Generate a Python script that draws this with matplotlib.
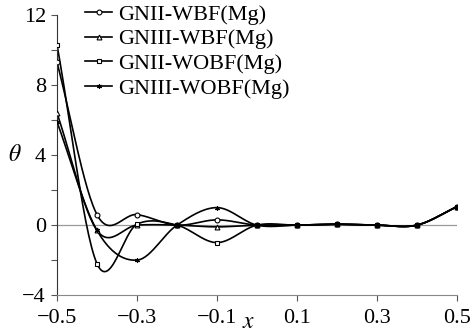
import numpy as np
import matplotlib.pyplot as plt

plt.rcParams['font.family'] = ['Liberation Serif', 'DejaVu Serif']
plt.rcParams['mathtext.fontset'] = 'stix'

# data
x = [-0.5, -0.4, -0.3, -0.2, -0.1, 0.0, 0.1, 0.2, 0.3, 0.4, 0.5]
gnii_wbf = [9.3, 0.6, 0.6, 0.0, 0.3, 0.0, 0.0, 0.05, 0.0, 0.0, 1.05]
gniii_wbf = [6.4, -0.3, 0.0, 0.0, -0.1, 0.0, 0.0, 0.05, 0.0, 0.0, 1.05]
gnii_wobf = [10.3, -2.2, 0.05, 0.0, -1.0, 0.0, 0.0, 0.05, 0.0, 0.0, 1.05]
gniii_wobf = [5.9, -0.3, -2.0, 0.0, 1.0, 0.0, 0.0, 0.05, 0.0, 0.0, 1.05]

labels = ['GNII-WBF(Mg)', 'GNIII-WBF(Mg)', 'GNII-WOBF(Mg)', 'GNIII-WOBF(Mg)']
series = [gnii_wbf, gniii_wbf, gnii_wobf, gniii_wobf]
markers = ['o', '^', 's', (6, 2, 0)]


def smooth(xs, ys, n=30):
    # Catmull-Rom spline through the points (like a "smoothed line" chart)
    xs = np.asarray(xs, float)
    ys = np.asarray(ys, float)
    px = np.concatenate([[2 * xs[0] - xs[1]], xs, [2 * xs[-1] - xs[-2]]])
    py = np.concatenate([[2 * ys[0] - ys[1]], ys, [2 * ys[-1] - ys[-2]]])
    t = np.linspace(0, 1, n)
    outx, outy = [], []
    for i in range(1, len(px) - 2):
        for p, out in ((px, outx), (py, outy)):
            p0, p1, p2, p3 = p[i - 1], p[i], p[i + 1], p[i + 2]
            out.append(0.5 * (2 * p1 + (-p0 + p2) * t
                              + (2 * p0 - 5 * p1 + 4 * p2 - p3) * t ** 2
                              + (-p0 + 3 * p1 - 3 * p2 + p3) * t ** 3))
    return np.concatenate(outx), np.concatenate(outy)


fig = plt.figure(figsize=(4.71, 3.35), dpi=100)
ax = fig.add_axes([0.121, 0.119, 0.849, 0.836])

ax.axhline(0, color='#999999', lw=0.9, zorder=1)

for ys, lab, m in zip(series, labels, markers):
    sx, sy = smooth(x, ys)
    ax.plot(sx, sy, color='black', lw=1.2, zorder=2)
    ax.plot(x, ys, linestyle='none', marker=m, ms=3.5, mfc='white',
            mec='black', mew=0.8, zorder=3)
    ax.plot([], [], color='black', lw=1.2, marker=m, ms=3.5, mfc='white',
            mec='black', mew=0.8, label=lab)

ax.set_xlim(-0.5, 0.5)
ax.set_ylim(-4, 12)
ax.set_xticks([-0.5, -0.3, -0.1, 0.1, 0.3, 0.5])
ax.set_xticklabels(['\u22120.5', '\u22120.3', '\u22120.1', '0.1', '0.3', '0.5'])
ax.set_yticks([-4, -2, 0, 2, 4, 6, 8, 10, 12])
ax.set_yticklabels(['\u22124', '', '0', '', '4', '', '8', '', '12'])
ax.tick_params(labelsize=16, length=4, width=0.8, color='#555555')
ax.tick_params(axis='x', pad=6)
ax.tick_params(axis='y', pad=4)

for s in ['top', 'right']:
    ax.spines[s].set_visible(False)
ax.spines['left'].set_color('#333333')
ax.spines['bottom'].set_color('#888888')

ax.set_xlabel('$x$', fontsize=17)
ax.xaxis.set_label_coords(0.478, -0.062)
ax.set_ylabel(r'$\theta$', fontsize=17, rotation=0, va='center')
ax.yaxis.set_label_coords(-0.105, 0.5)

ax.legend(loc='upper left', bbox_to_anchor=(0.047, 1.07), frameon=False,
          fontsize=16, handlelength=1.25, handletextpad=0.25,
          labelspacing=0.18, borderaxespad=0)

fig.savefig('out.png', dpi=100)
